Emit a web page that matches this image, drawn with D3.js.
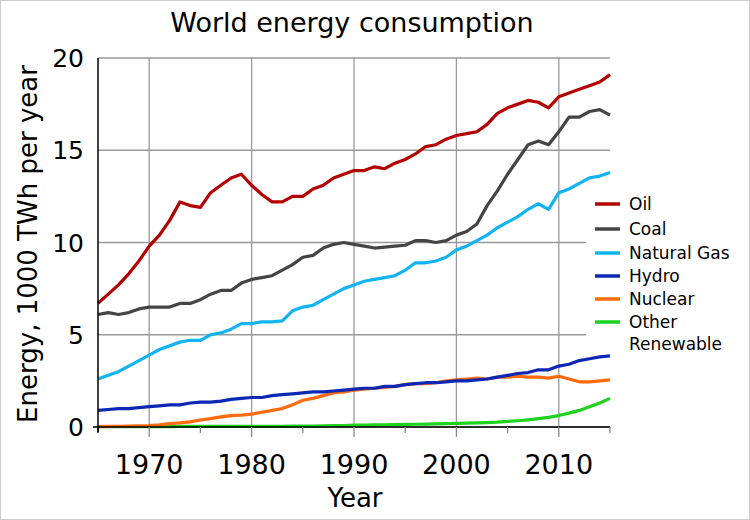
<!DOCTYPE html>
<html><head><meta charset="utf-8">
<script src="https://cdn.jsdelivr.net/npm/d3@7"></script>
<style>body{margin:0;background:#fff;}svg{font-family:"DejaVu Sans",sans-serif;}</style>
</head><body><svg width="750" height="520"></svg>
<script>
var years = d3.range(1965, 2016);
var oil = [6.7,7.2,7.7,8.3,9.0,9.8,10.4,11.2,12.2,12.0,11.9,12.7,13.1,13.5,13.7,13.1,12.6,12.2,12.2,12.5,12.5,12.9,13.1,13.5,13.7,13.9,13.9,14.1,14.0,14.3,14.5,14.8,15.2,15.3,15.6,15.8,15.9,16.0,16.4,17.0,17.3,17.5,17.7,17.6,17.3,17.9,18.1,18.3,18.5,18.7,19.1];
var coal = [6.1,6.2,6.1,6.2,6.4,6.5,6.5,6.5,6.7,6.7,6.9,7.2,7.4,7.4,7.8,8.0,8.1,8.2,8.5,8.8,9.2,9.3,9.7,9.9,10.0,9.9,9.8,9.7,9.75,9.8,9.85,10.1,10.1,10.0,10.1,10.4,10.6,11.0,12.0,12.8,13.7,14.5,15.3,15.5,15.3,16.0,16.8,16.8,17.1,17.2,16.9];
var gas = [2.6,2.8,3.0,3.3,3.6,3.9,4.2,4.4,4.6,4.7,4.7,5.0,5.1,5.3,5.6,5.6,5.7,5.7,5.75,6.3,6.5,6.6,6.9,7.2,7.5,7.7,7.9,8.0,8.1,8.2,8.5,8.9,8.9,9.0,9.2,9.6,9.8,10.1,10.4,10.8,11.1,11.4,11.8,12.1,11.8,12.7,12.9,13.2,13.5,13.6,13.8];
var hydro = [0.9,0.95,1.0,1.0,1.05,1.1,1.15,1.2,1.2,1.3,1.35,1.35,1.4,1.5,1.55,1.6,1.6,1.7,1.75,1.8,1.85,1.9,1.9,1.95,2.0,2.05,2.1,2.1,2.2,2.2,2.3,2.35,2.4,2.4,2.45,2.5,2.5,2.55,2.6,2.7,2.8,2.9,2.95,3.1,3.1,3.3,3.4,3.6,3.7,3.8,3.85];
var nuclear = [0.02,0.03,0.04,0.05,0.06,0.08,0.12,0.18,0.22,0.28,0.38,0.45,0.55,0.62,0.64,0.7,0.8,0.9,1.0,1.2,1.45,1.55,1.7,1.85,1.9,2.0,2.05,2.1,2.15,2.2,2.3,2.35,2.35,2.4,2.5,2.55,2.6,2.65,2.6,2.7,2.7,2.75,2.7,2.7,2.65,2.75,2.6,2.45,2.45,2.5,2.55];
var other = [0.02,0.02,0.02,0.02,0.02,0.02,0.02,0.02,0.03,0.03,0.03,0.03,0.03,0.03,0.03,0.04,0.04,0.04,0.04,0.05,0.05,0.05,0.06,0.07,0.08,0.1,0.1,0.11,0.12,0.13,0.14,0.15,0.16,0.17,0.18,0.2,0.21,0.22,0.24,0.26,0.3,0.34,0.39,0.45,0.52,0.62,0.75,0.9,1.1,1.3,1.55];
var seriesNames = ["Oil","Coal","Natural Gas","Hydro","Nuclear","Other Renewable"];
var seriesColors = ["#b30000","#444444","#11b4f0","#0a28b4","#ff6a0a","#1ed21e"];
var yTicks = [0,5,10,15,20];
var xTicks = [1970,1980,1990,2000,2010];

var svg = d3.select("svg");
svg.append("rect").attr("x",0.5).attr("y",0.5).attr("width",749).attr("height",519)
    .attr("fill","none").attr("stroke","#ccc");
var x = d3.scaleLinear().domain([1965,2015]).range([98,610]);
var y = d3.scaleLinear().domain([0,20]).range([427,58]);

// grid
svg.selectAll("line.hg").data(yTicks).enter().append("line")
    .attr("x1",98).attr("x2",610).attr("y1",function (d) { return y(d); }).attr("y2",function (d) { return y(d); })
    .attr("stroke","#999").attr("stroke-width",1.3);
svg.selectAll("line.vg").data(xTicks).enter().append("line")
    .attr("y1",58).attr("y2",427).attr("x1",function (d) { return x(d); }).attr("x2",function (d) { return x(d); })
    .attr("stroke","#999").attr("stroke-width",1.3);

var all = [oil,coal,gas,hydro,nuclear,other];
var line = d3.line().x(function (d, i) { return x(years[i]); }).y(function (d) { return y(d); });
// legend backdrop covers grid
svg.append("rect").attr("x",586).attr("y",190).attr("width",160).attr("height",165).attr("fill","#fff");

all.slice().reverse().forEach(function (s, j) {
    var i = all.length - 1 - j;
    svg.append("path").attr("d", line(s)).attr("fill","none")
        .attr("stroke", seriesColors[i]).attr("stroke-width",3.2).attr("stroke-linejoin","round");
});

// axes
svg.append("line").attr("x1",98).attr("x2",98).attr("y1",58).attr("y2",432).attr("stroke","#000").attr("stroke-width",1.5);
svg.append("line").attr("x1",93).attr("x2",610).attr("y1",427).attr("y2",427).attr("stroke","#000").attr("stroke-width",1.5);
svg.selectAll("line.mt").data(d3.range(1965,2016,5)).enter().append("line")
    .attr("x1",function (d) { return x(d); }).attr("x2",function (d) { return x(d); })
    .attr("y1",427).attr("y2",function (d) { return d % 10 === 0 ? 437 : 433; })
    .attr("stroke",function (d) { return d === 1965 ? "#000" : "#888"; }).attr("stroke-width",1.3);

svg.selectAll("text.yt").data(yTicks).enter().append("text")
    .attr("x",84).attr("y",function (d) { return y(d) + 9; }).attr("text-anchor","end")
    .attr("font-size",25).text(function (d) { return d; });
svg.selectAll("text.xt").data(xTicks).enter().append("text")
    .attr("x",function (d) { return x(d); }).attr("y",474).attr("text-anchor","middle")
    .attr("font-size",27).text(function (d) { return d; });

svg.append("text").attr("x",352).attr("y",32).attr("text-anchor","middle").attr("font-size",27).text("World energy consumption");
svg.append("text").attr("x",355).attr("y",507).attr("text-anchor","middle").attr("font-size",26).text("Year");
svg.append("text").attr("transform","translate(37,244) rotate(-90)").attr("text-anchor","middle")
    .attr("font-size",26).text("Energy, 1000 TWh per year");

// legend
var ly = [204,229,253,276,299,322];
seriesNames.forEach(function (n, i) {
    svg.append("line").attr("x1",595).attr("x2",620).attr("y1",ly[i]).attr("y2",ly[i])
        .attr("stroke",seriesColors[i]).attr("stroke-width",3.5);
    var t = svg.append("text").attr("x",629).attr("y",ly[i]+6).attr("font-size",17);
    if (n === "Other Renewable") {
        t.text("Other");
        svg.append("text").attr("x",629).attr("y",ly[i]+28).attr("font-size",17).text("Renewable");
    } else {
        t.text(n);
    }
});
</script></body></html>
